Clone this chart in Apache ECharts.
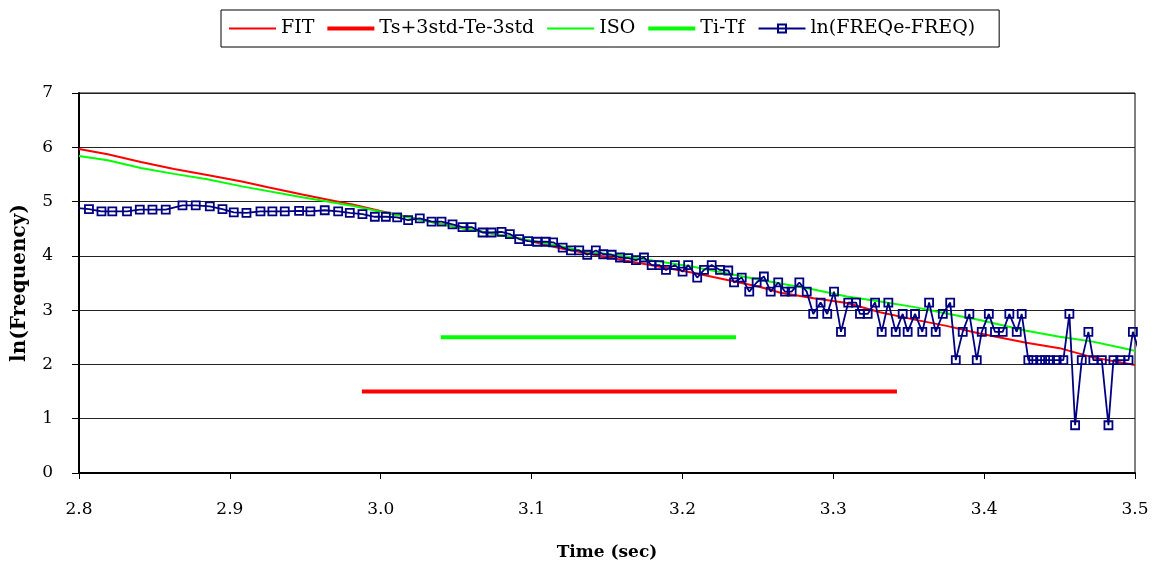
<!DOCTYPE html>
<html>
<head>
<meta charset="utf-8">
<script src="https://cdn.jsdelivr.net/npm/echarts@6/dist/echarts.min.js"></script>
<style>
  html, body { margin: 0; padding: 0; background: #fff; }
  #main { width: 1158px; height: 570px; }
</style>
</head>
<body>
<div id="main"></div>
<script>
// FIT curve
var fitT = [2.800, 2.819, 2.841, 2.863, 2.885, 2.908, 2.926, 2.948, 2.966, 2.982, 3.004, 3.048, 3.092, 3.119, 3.132, 3.163, 3.207, 3.251, 3.265, 3.287, 3.309, 3.331, 3.353, 3.375, 3.397, 3.428, 3.450, 3.472, 3.500];
var fitY = [5.97, 5.87, 5.73, 5.60, 5.49, 5.37, 5.26, 5.13, 5.03, 4.94, 4.80, 4.54, 4.32, 4.14, 4.07, 3.91, 3.69, 3.43, 3.32, 3.22, 3.13, 2.96, 2.83, 2.71, 2.57, 2.40, 2.30, 2.13, 1.99];

// ISO curve
var isoT = [2.800, 2.819, 2.841, 2.863, 2.885, 2.908, 2.948, 2.982, 3.004, 3.048, 3.092, 3.119, 3.132, 3.163, 3.207, 3.251, 3.265, 3.287, 3.309, 3.331, 3.353, 3.375, 3.397, 3.428, 3.450, 3.472, 3.494, 3.500];
var isoY = [5.84, 5.76, 5.62, 5.51, 5.41, 5.28, 5.08, 4.92, 4.79, 4.54, 4.32, 4.18, 4.10, 3.99, 3.80, 3.56, 3.49, 3.38, 3.25, 3.16, 3.06, 2.94, 2.82, 2.62, 2.51, 2.42, 2.29, 2.25];

// horizontal segments
var tsT = [2.9875, 3.3422];
var tsY = [1.5, 1.5];
var tiT = [3.0398, 3.2355];
var tiY = [2.5, 2.5];

// ln(FREQe-FREQ)
var lnT = [2.7985, 2.8066, 2.8149, 2.8221, 2.8318, 2.8403, 2.8487, 2.8575, 2.8686, 2.8774, 2.8867, 2.8951, 2.9026, 2.9110, 2.9203, 2.9282, 2.9364, 2.9459, 2.9534, 2.9629,
  2.9718, 2.9795, 2.9879, 2.9961, 3.0034, 3.0109, 3.0182, 3.0259, 3.0337, 3.0403, 3.0476, 3.0542, 3.0602, 3.0675, 3.0735, 3.0801, 3.0856, 3.0918, 3.0977, 3.1037, 3.1095, 3.1143, 3.1206, 3.1261,
  3.1316, 3.1369, 3.1426, 3.1475, 3.1531, 3.1586, 3.1641, 3.1692, 3.1745, 3.1796, 3.1846, 3.1891, 3.1950, 3.2001, 3.2038, 3.2098, 3.2143, 3.2194, 3.2249, 3.2304, 3.2342, 3.2393, 3.2443, 3.2492, 3.2540, 3.2585, 3.2635, 3.2680, 3.2724, 3.2775, 3.2824,
  3.2867, 3.2916, 3.2960, 3.3005, 3.3051, 3.3099, 3.3151, 3.3177, 3.3228, 3.3277, 3.3321, 3.3365, 3.3414, 3.3460, 3.3493, 3.3542, 3.3590, 3.3635, 3.3679, 3.3726, 3.3775, 3.3812, 3.3858, 3.3902, 3.3951,
  3.3984, 3.4031, 3.4072, 3.4123, 3.4167, 3.4216, 3.4249, 3.4293, 3.4326, 3.4371, 3.4404, 3.4437, 3.4481, 3.4525, 3.4565, 3.4603, 3.4647, 3.4691, 3.4724, 3.4780, 3.4824, 3.4857, 3.4902, 3.4957, 3.4986, 3.5046];
var lnY = [4.88, 4.86, 4.82, 4.82, 4.82, 4.85, 4.85, 4.85, 4.93, 4.93, 4.91, 4.86, 4.80, 4.79, 4.82, 4.82, 4.82, 4.83, 4.82, 4.84,
  4.82, 4.79, 4.77, 4.72, 4.72, 4.71, 4.66, 4.69, 4.63, 4.63, 4.58, 4.53, 4.53, 4.43, 4.43, 4.44, 4.40, 4.31, 4.27, 4.26, 4.26, 4.25, 4.15, 4.10,
  4.10, 4.02, 4.10, 4.03, 4.02, 3.97, 3.96, 3.92, 3.97, 3.83, 3.83, 3.74, 3.83, 3.71, 3.83, 3.60, 3.74, 3.83, 3.74, 3.73, 3.51, 3.60, 3.34, 3.51, 3.62, 3.34, 3.51, 3.34, 3.34, 3.51, 3.34,
  2.93, 3.14, 2.93, 3.34, 2.60, 3.14, 3.14, 2.93, 2.93, 3.14, 2.60, 3.14, 2.60, 2.93, 2.60, 2.93, 2.60, 3.14, 2.60, 2.93, 3.14, 2.08, 2.60, 2.93, 2.08,
  2.60, 2.93, 2.60, 2.60, 2.93, 2.60, 2.93, 2.08, 2.08, 2.08, 2.08, 2.08, 2.08, 2.08, 2.93, 0.88, 2.08, 2.60, 2.08, 2.08, 0.88, 2.08, 2.08, 2.08, 2.60, 2.08];

var seriesNames = ['FIT', 'Ts+3std-Te-3std', 'ISO', 'Ti-Tf', 'ln(FREQe-FREQ)'];

function pairs(t, y) {
  return t.map(function (v, i) { return [v, y[i]]; });
}

var font = 'DejaVu Serif';
var thinIcon = 'path://M0,0H47V2H0Z';
var thickIcon = 'path://M0,0H47V4H0Z';

var myChart = echarts.init(document.getElementById('main'), null, { renderer: 'canvas' });

var option = {
  animation: false,
  backgroundColor: '#fff',
  legend: {
    left: 221,
    top: 10,
    padding: [9, 24, 9, 8],
    itemGap: 13,
    itemWidth: 47,
    itemHeight: 10,
    borderColor: '#000',
    borderWidth: 1,
    textStyle: { fontFamily: font, fontSize: 19, color: '#000' },
    data: [
      { name: seriesNames[0], icon: thinIcon },
      { name: seriesNames[1], icon: thickIcon },
      { name: seriesNames[2], icon: thinIcon },
      { name: seriesNames[3], icon: thickIcon },
      { name: seriesNames[4] }
    ]
  },
  grid: {
    left: 79,
    right: 23,
    top: 93,
    bottom: 97,
    show: true,
    borderColor: '#000',
    borderWidth: 1
  },
  xAxis: {
    type: 'value',
    min: 2.8,
    max: 3.5,
    interval: 0.1,
    name: 'Time (sec)',
    nameLocation: 'middle',
    nameGap: 71,
    nameTextStyle: { fontFamily: font, fontSize: 17, fontWeight: 'bold', color: '#000' },
    axisLine: { lineStyle: { color: '#000', width: 2 } },
    axisTick: { length: 6, lineStyle: { color: '#000' } },
    axisLabel: {
      margin: 28,
      fontFamily: font, fontSize: 17, color: '#000',
      formatter: function (v) { return v.toFixed(1); }
    },
    splitLine: { show: false }
  },
  yAxis: {
    type: 'value',
    min: 0,
    max: 7,
    interval: 1,
    name: 'ln(Frequency)',
    nameLocation: 'middle',
    nameGap: 49,
    nameTextStyle: { fontFamily: font, fontSize: 20, fontWeight: 'bold', color: '#000' },
    axisLine: { show: true, lineStyle: { color: '#000', width: 2 } },
    axisTick: { show: true, length: 7, lineStyle: { color: '#000' } },
    axisLabel: { margin: 26, fontFamily: font, fontSize: 17, color: '#000' },
    splitLine: { lineStyle: { color: '#222', width: 1 } }
  },
  series: [
    {
      name: seriesNames[0], type: 'line', symbol: 'none',
      data: pairs(fitT, fitY),
      itemStyle: { color: '#ff0000' },
      lineStyle: { color: '#ff0000', width: 2 }
    },
    {
      name: seriesNames[1], type: 'line', symbol: 'none',
      data: pairs(tsT, tsY),
      itemStyle: { color: '#ff0000' },
      lineStyle: { color: '#ff0000', width: 4 }
    },
    {
      name: seriesNames[2], type: 'line', symbol: 'none',
      data: pairs(isoT, isoY),
      itemStyle: { color: '#00ff00' },
      lineStyle: { color: '#00ff00', width: 2 }
    },
    {
      name: seriesNames[3], type: 'line', symbol: 'none',
      data: pairs(tiT, tiY),
      itemStyle: { color: '#00ff00' },
      lineStyle: { color: '#00ff00', width: 4 }
    },
    {
      name: seriesNames[4], type: 'line', symbol: 'rect', symbolSize: 8,
      showAllSymbol: true,
      data: pairs(lnT, lnY),
      itemStyle: { color: 'rgba(255,255,255,0)', borderColor: '#000080', borderWidth: 1.8 },
      lineStyle: { color: '#000080', width: 1.8 }
    }
  ]
};

myChart.setOption(option);
</script>
</body>
</html>
